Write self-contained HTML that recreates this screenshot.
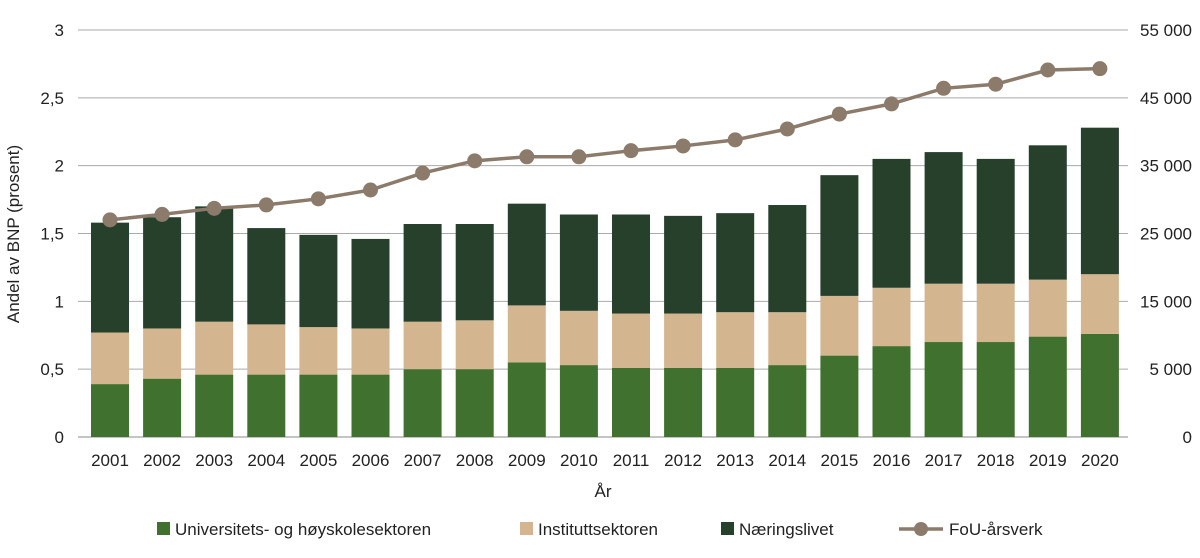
<!DOCTYPE html>
<html><head><meta charset="utf-8">
<style>
html,body{margin:0;padding:0;background:#fff;}
svg{display:block;font-family:"Liberation Sans",sans-serif;}
</style></head>
<body>
<svg id="chart" width="1200" height="558" viewBox="0 0 1200 558"></svg>
<script>
const years=["2001","2002","2003","2004","2005","2006","2007","2008","2009","2010","2011","2012","2013","2014","2015","2016","2017","2018","2019","2020"];
const uhCum=[0.39,0.43,0.46,0.46,0.46,0.46,0.50,0.50,0.55,0.53,0.51,0.51,0.51,0.53,0.60,0.67,0.70,0.70,0.74,0.76];
const instCum=[0.77,0.80,0.85,0.83,0.81,0.80,0.85,0.86,0.97,0.93,0.91,0.91,0.92,0.92,1.04,1.10,1.13,1.13,1.16,1.20];
const totalCum=[1.58,1.62,1.70,1.54,1.49,1.46,1.57,1.57,1.72,1.64,1.64,1.63,1.65,1.71,1.93,2.05,2.10,2.05,2.15,2.28];
const fou=[27000,27800,28700,29200,30100,31400,33900,35700,36300,36300,37200,37900,38800,40400,42600,44100,46400,47000,49100,49300];
const leftTicks=["0","0,5","1","1,5","2","2,5","3"];
const rightTicks=["0","5 000","15 000","25 000","35 000","45 000","55 000"];

const svg=document.getElementById('chart');
const NS="http://www.w3.org/2000/svg";
const X0=110,DX=52.1,BW=38,Y0=437,YT=30,L=78,R=1128;
function y(v){return Y0-v/3*(Y0-YT);}
function yr(v){return 369-(v-5000)/10000*67.8;}
function x(i){return X0+i*DX;}
function el(t,a,txt){const e=document.createElementNS(NS,t);for(const k in a)e.setAttribute(k,a[k]);if(txt!==undefined)e.textContent=txt;svg.appendChild(e);return e;}

for(let i=0;i<leftTicks.length;i++){
  const yy=y(i*0.5);
  const g=el('line',{x1:L,x2:R,y1:yy,y2:yy,stroke:i==0?'#888':'#aaa','stroke-width':1});
  
  
  const t=el('text',{x:64,y:yy+6,'text-anchor':'end','font-size':17,fill:'#222'},leftTicks[i]);
  
  
  const t2=el('text',{x:1192,y:yy+6,'text-anchor':'end','font-size':17,fill:'#222'},rightTicks[i]);
  
  
}
for(let i=0;i<years.length;i++){
  const cx=x(i);
  const b1=el('rect',{x:cx-BW/2,y:y(uhCum[i]),width:BW,height:y(0)-y(uhCum[i]),fill:'#41712f'});
  
  
  const b2=el('rect',{x:cx-BW/2,y:y(instCum[i]),width:BW,height:y(uhCum[i])-y(instCum[i]),fill:'#d3b58f'});
  
  
  const b3=el('rect',{x:cx-BW/2,y:y(totalCum[i]),width:BW,height:y(instCum[i])-y(totalCum[i]),fill:'#26402c'});
  
  
  const t=el('text',{x:cx,y:466,'text-anchor':'middle','font-size':17,fill:'#222'},years[i]);
  
  
}
const pts=fou.map((v,i)=>x(i)+','+yr(v)).join(' ');
const pl=el('polyline',{points:pts,fill:'none',stroke:'#8c7b6b','stroke-width':3.5});


fou.forEach((v,i)=>{
  const c=el('circle',{cx:x(i),cy:yr(v),r:7.5,fill:'#8c7b6b'});
  
  
});
const xt=el('text',{x:603,y:497,'text-anchor':'middle','font-size':17,fill:'#222'},'År');


const yt=el('text',{x:0,y:0,'text-anchor':'middle','font-size':17,fill:'#222',transform:'translate(19,234) rotate(-90)'},'Andel av BNP (prosent)');



const leg=[['rect','#41712f','Universitets- og høyskolesektoren',157],['rect','#d3b58f','Instituttsektoren',520],['rect','#26402c','Næringslivet',721],['line','#8c7b6b','FoU-årsverk',899]];
leg.forEach(l=>{
  let m;
  if(l[0]=='rect'){m=el('rect',{x:l[3],y:522,width:13,height:13,fill:l[1]});}
  else{m=el('line',{x1:l[3],x2:l[3]+44,y1:529,y2:529,stroke:l[1],'stroke-width':3.5});
    const c=el('circle',{cx:l[3]+22,cy:529,r:7,fill:l[1]});
    
    }
  
  
  const t=el('text',{x:l[3]+(l[0]=='rect'?18:50),y:535,'font-size':17,fill:'#222'},l[2]);
  
  
});
</script>
</body></html>
